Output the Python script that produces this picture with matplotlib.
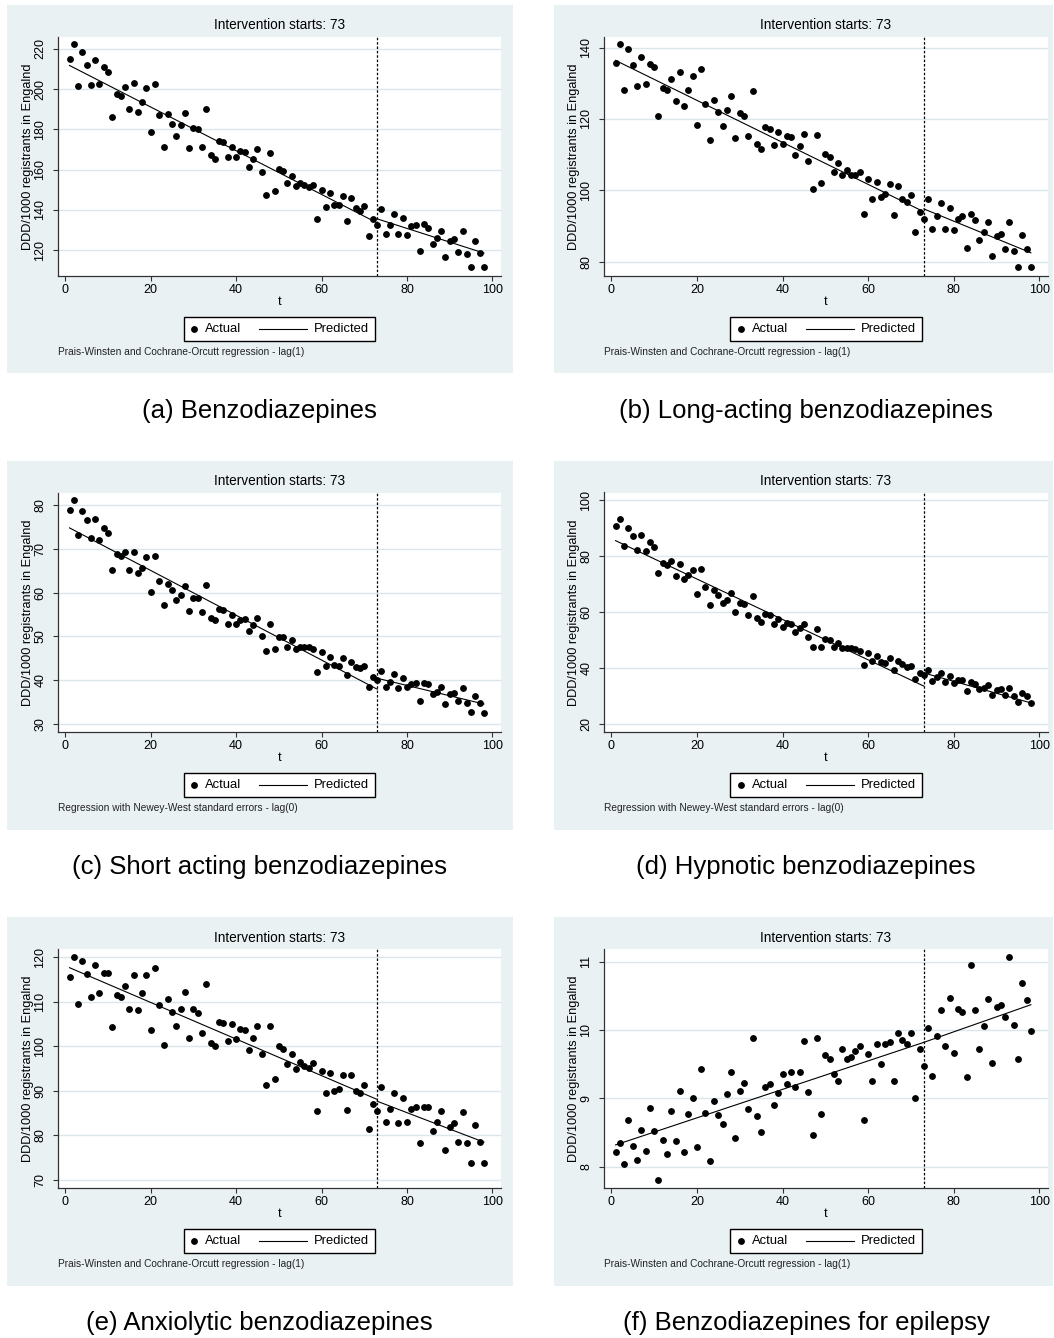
import numpy as np
import matplotlib.pyplot as plt
from matplotlib.patches import Rectangle
from matplotlib.lines import Line2D
from matplotlib.offsetbox import DrawingArea, TextArea, HPacker, AnchoredOffsetbox

plt.rcParams['font.family'] = ['Liberation Sans', 'DejaVu Sans']

# time index (months)
t = np.arange(1, 99)
intervention = 73

benzo = [215.0, 222.3, 201.4, 218.3, 212.0, 202.0, 214.4, 202.3, 210.7, 208.7,
         186.0, 197.6, 196.4, 200.8, 190.1, 202.8, 188.7, 193.8, 200.3, 178.7,
         202.6, 187.2, 171.4, 187.5, 182.5, 176.7, 182.0, 188.3, 170.9, 180.5,
         179.9, 171.1, 190.0, 167.3, 165.1, 174.4, 173.6, 166.0, 171.4, 166.1,
         169.3, 168.9, 161.3, 165.3, 170.1, 158.8, 147.4, 168.4, 149.4, 160.1,
         159.5, 153.2, 157.0, 151.8, 153.5, 152.2, 151.5, 152.3, 135.6, 149.9,
         141.4, 148.2, 142.2, 142.5, 146.7, 134.6, 145.7, 140.9, 139.6, 141.9,
         127.0, 135.3, 132.4, 140.2, 127.8, 132.6, 138.1, 127.8, 135.9, 127.5,
         131.8, 132.4, 119.5, 132.9, 131.1, 123.2, 125.8, 129.6, 116.5, 124.5,
         125.3, 119.0, 129.3, 118.2, 111.5, 124.3, 118.7, 111.5]

long_acting = [135.8, 140.9, 128.0, 139.6, 135.0, 129.2, 137.3, 129.8, 135.4, 134.6,
               120.8, 128.8, 128.1, 131.1, 125.0, 133.2, 123.7, 128.1, 132.1, 118.3,
               134.0, 124.2, 114.2, 125.3, 122.0, 118.1, 122.5, 126.5, 114.8, 121.6,
               120.8, 115.3, 127.9, 113.0, 111.5, 117.8, 117.3, 112.7, 116.4, 113.0,
               115.1, 114.9, 109.8, 112.5, 115.8, 108.3, 100.5, 115.4, 102.1, 110.1,
               109.3, 105.1, 107.6, 104.2, 105.7, 104.4, 104.3, 105.0, 93.3, 103.1,
               97.6, 102.4, 98.0, 99.1, 101.7, 93.1, 101.1, 97.6, 96.8, 98.7,
               88.2, 94.0, 92.1, 97.6, 89.3, 92.7, 96.4, 89.3, 95.1, 89.0,
               92.1, 92.8, 83.8, 93.3, 91.6, 86.1, 88.4, 91.0, 81.7, 87.3,
               87.9, 83.7, 91.0, 83.1, 78.4, 87.6, 83.6, 78.6]

short_acting = [78.9, 81.1, 73.1, 78.6, 76.6, 72.4, 76.8, 72.1, 74.7, 73.7,
                65.1, 68.9, 68.4, 69.2, 65.1, 69.2, 64.5, 65.7, 68.1, 60.2,
                68.3, 62.6, 57.1, 62.0, 60.7, 58.3, 59.5, 61.6, 55.9, 58.7,
                58.7, 55.5, 61.8, 54.2, 53.7, 56.2, 56.0, 52.8, 54.8, 52.9,
                53.8, 53.9, 51.2, 52.6, 54.1, 50.0, 46.6, 52.8, 47.0, 49.9,
                49.8, 47.5, 49.1, 47.1, 47.5, 47.5, 47.5, 47.1, 41.8, 46.5,
                43.3, 45.3, 43.4, 43.2, 45.1, 41.1, 44.2, 42.9, 42.7, 43.1,
                38.4, 40.7, 40.1, 42.1, 38.3, 39.5, 41.4, 38.1, 40.5, 38.4,
                39.1, 39.2, 35.3, 39.4, 39.0, 36.7, 37.2, 38.4, 34.6, 36.8,
                37.1, 35.1, 38.1, 34.8, 32.7, 36.3, 34.7, 32.5]

hypnotic = [90.8, 93.2, 83.5, 90.1, 87.1, 82.1, 87.4, 81.7, 84.9, 83.2,
            73.8, 77.5, 76.9, 78.1, 73.0, 77.0, 71.8, 73.1, 74.9, 66.4,
            75.2, 68.8, 62.5, 67.7, 66.1, 63.2, 64.3, 66.7, 60.1, 63.1,
            62.7, 58.9, 65.7, 57.7, 56.5, 59.3, 58.9, 55.6, 57.5, 54.8,
            56.0, 55.8, 52.9, 54.3, 55.7, 51.0, 47.4, 53.8, 47.6, 50.4,
            49.9, 47.5, 49.0, 47.0, 47.1, 47.0, 46.9, 46.1, 41.2, 45.5,
            42.3, 44.3, 42.1, 41.8, 43.6, 39.1, 42.4, 41.3, 40.5, 40.7,
            36.1, 38.2, 37.6, 39.2, 35.2, 36.7, 38.2, 34.9, 37.1, 34.6,
            35.6, 35.6, 31.9, 35.1, 34.3, 32.4, 32.7, 33.8, 30.4, 32.1,
            32.3, 30.4, 32.9, 29.9, 27.7, 30.9, 29.8, 27.4]

anxiolytic = [115.4, 120.1, 109.5, 119.1, 116.1, 111.0, 118.1, 111.9, 116.4, 116.5,
              104.2, 111.4, 111.0, 113.4, 108.4, 116.0, 108.2, 111.9, 115.9, 103.6,
              117.6, 109.2, 100.3, 110.6, 107.6, 104.6, 108.4, 112.2, 101.8, 108.3,
              107.4, 103.0, 113.9, 100.6, 100.0, 105.5, 105.2, 101.2, 105.0, 101.5,
              103.9, 103.6, 99.1, 101.8, 104.4, 98.3, 91.3, 104.6, 92.5, 100.0,
              99.4, 95.9, 98.3, 94.9, 96.5, 95.4, 95.1, 96.2, 85.5, 94.3,
              89.5, 93.9, 90.0, 90.4, 93.4, 85.7, 93.4, 89.8, 89.4, 91.2,
              81.4, 87.0, 85.3, 90.8, 83.0, 85.9, 89.4, 82.8, 88.3, 83.0,
              85.8, 86.4, 78.1, 86.4, 86.2, 81.0, 82.9, 85.3, 76.7, 81.7,
              82.6, 78.4, 85.2, 78.1, 73.7, 82.2, 78.4, 73.8]

epilepsy = [8.21, 8.35, 8.04, 8.68, 8.30, 8.10, 8.54, 8.23, 8.86, 8.53,
            7.81, 8.39, 8.19, 8.81, 8.38, 9.11, 8.22, 8.77, 9.00, 8.29,
            9.43, 8.79, 8.08, 8.96, 8.76, 8.63, 9.06, 9.39, 8.42, 9.11,
            9.22, 8.84, 9.89, 8.75, 8.51, 9.16, 9.21, 8.91, 9.08, 9.36,
            9.21, 9.39, 9.16, 9.39, 9.84, 9.09, 8.46, 9.89, 8.77, 9.63,
            9.58, 9.35, 9.25, 9.72, 9.58, 9.61, 9.70, 9.76, 8.68, 9.65,
            9.26, 9.79, 9.51, 9.79, 9.82, 9.25, 9.96, 9.86, 9.79, 9.95,
            9.01, 9.72, 9.48, 10.03, 9.33, 9.92, 10.30, 9.77, 10.47, 9.66,
            10.31, 10.27, 9.32, 10.95, 10.29, 9.72, 10.06, 10.46, 9.52, 10.33,
            10.37, 10.19, 11.07, 10.07, 9.58, 10.69, 10.44, 9.99]

# predicted segments: (t_start, t_end) -> (y_start, y_end)
pre_t = [1, 73]
post_t = [73, 98]
pred_pre = [[211.7, 133.5], [136.4, 94.0], [74.8, 37.9],
            [85.5, 33.5], [117.6, 88.0], [8.32, 9.82]]
pred_post = [[135.5, 118.5], [94.8, 82.5], [40.4, 34.5],
             [38.2, 27.5], [87.6, 78.4], [9.82, 10.37]]

series = [benzo, long_acting, short_acting, hypnotic, anxiolytic, epilepsy]
yticks = [[120, 140, 160, 180, 200, 220], [80, 100, 120, 140],
          [30, 40, 50, 60, 70, 80], [20, 40, 60, 80, 100],
          [70, 80, 90, 100, 110, 120], [8, 9, 10, 11]]
ylims = [(107.1, 226.1), (76.0, 143.1), (28.1, 82.9),
         (17.1, 102.7), (68.1, 121.8), (7.69, 11.185)]
note_pw = 'Prais-Winsten and Cochrane-Orcutt regression - lag(1)'
note_nw = 'Regression with Newey-West standard errors - lag(0)'
notes = [note_pw, note_pw, note_nw, note_nw, note_pw, note_pw]
captions = ['(a) Benzodiazepines', '(b) Long-acting benzodiazepines',
            '(c) Short acting benzodiazepines', '(d) Hypnotic benzodiazepines',
            '(e) Anxiolytic benzodiazepines', '(f) Benzodiazepines for epilepsy']

W, H = 1054, 1338
fig = plt.figure(figsize=(W / 100, H / 100), dpi=100)

# layout in pixels
col_ax = [(58, 501), (604, 1048)]
row_ax = [(36.5, 276), (492.5, 732), (949, 1188)]
col_bg = [(7, 513), (554, 1053)]
row_bg = [(5, 373), (461, 830), (917, 1286)]
col_cap = [259, 806]
row_cap = [411, 867, 1323]

bg_col = '#e9f1f3'
grid_col = '#dbe6ea'
axis_col = '#333333'

for i in range(6):
    r, c = divmod(i, 2)
    x0, x1 = col_ax[c]
    y0, y1 = row_ax[r]
    aw, ah = x1 - x0, y1 - y0

    bx0, bx1 = col_bg[c]
    by0, by1 = row_bg[r]
    fig.add_artist(Rectangle((bx0 / W, 1 - by1 / H), (bx1 - bx0) / W, (by1 - by0) / H,
                             transform=fig.transFigure, facecolor=bg_col,
                             edgecolor='none', zorder=-5))

    ax = fig.add_axes([x0 / W, 1 - y1 / H, aw / W, ah / H])
    ax.set_facecolor('white')

    ax.plot(t, series[i], 'o', color='k', ms=3.9, zorder=3)
    ax.plot(pre_t, pred_pre[i], color='k', lw=0.8, zorder=2)
    ax.plot(post_t, pred_post[i], color='k', lw=0.8, zorder=2)
    ax.axvline(intervention, color='k', lw=0.9, ls=(0, (2, 1.5)), zorder=2)

    ax.set_xlim(-1.7, 102.0)
    ax.set_ylim(*ylims[i])
    ax.set_xticks([0, 20, 40, 60, 80, 100])
    ax.set_yticks(yticks[i])
    ax.grid(axis='y', color=grid_col, lw=1.0)
    ax.set_axisbelow(True)

    for s in ['top', 'right']:
        ax.spines[s].set_visible(False)
    for s in ['left', 'bottom']:
        ax.spines[s].set_color(axis_col)
        ax.spines[s].set_linewidth(0.9)
    ax.tick_params(axis='x', length=3.5, width=0.8, color=axis_col, pad=2.5, labelsize=9)
    ax.tick_params(axis='y', length=3.5, width=0.8, color=axis_col, pad=5,
                   labelsize=9, labelrotation=90)
    for lbl in ax.get_yticklabels():
        lbl.set_va('center')

    ax.text(0.5, 1 + 11.5 / ah, 'Intervention starts: 73', transform=ax.transAxes,
            ha='center', va='center', fontsize=9.8)
    ax.text(0.5, -26 / ah, 't', transform=ax.transAxes, ha='center', va='center',
            fontsize=9.3)
    ax.text(-30 / aw, 0.5, 'DDD/1000 registrants in Engalnd', transform=ax.transAxes,
            rotation=90, ha='center', va='center', fontsize=9.2)
    ax.text(0, -76 / ah, notes[i], transform=ax.transAxes, ha='left', va='center',
            fontsize=7.3, color='#222222')

    # legend box
    da1 = DrawingArea(6, 8, 0, 0)
    da1.add_artist(Line2D([3.4], [4], marker='o', color='k', ms=3.9, ls='none'))
    ta1 = TextArea('Actual', textprops=dict(fontsize=9.4))
    da2 = DrawingArea(42.5, 8, 0, 0)
    da2.add_artist(Line2D([8, 42.5], [4, 4], color='k', lw=0.8))
    ta2 = TextArea('Predicted', textprops=dict(fontsize=9.4))
    pack = HPacker(children=[da1, ta1, da2, ta2], sep=5, pad=0, align='center')
    leg = AnchoredOffsetbox(loc='upper center', child=pack, pad=0.45, borderpad=0,
                            frameon=True, bbox_to_anchor=(0.5, -41 / ah),
                            bbox_transform=ax.transAxes, prop=dict(size=9.3))
    leg.patch.set_boxstyle('square', pad=0)
    leg.patch.set_edgecolor('k')
    leg.patch.set_linewidth(1.0)
    leg.patch.set_facecolor('white')
    ax.add_artist(leg)

    fig.text(col_cap[c] / W, 1 - row_cap[r] / H, captions[i], ha='center', va='center',
             fontsize=18.5)

fig.savefig('out.png', dpi=100, facecolor='white')
